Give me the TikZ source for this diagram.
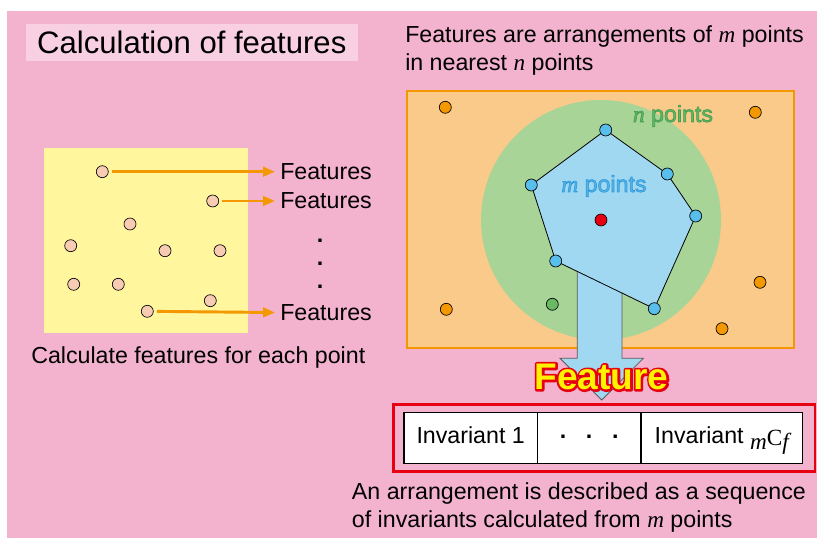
\documentclass[tikz,border=0pt]{standalone}
\usepackage{fontspec}
\setmainfont{Liberation Sans}
\newfontfamily\serif{Liberation Serif}
\usetikzlibrary{positioning, arrows.meta}

\definecolor{bgpink}{RGB}{243,178,206}
\definecolor{titlepink}{RGB}{248,208,226}
\definecolor{padyellow}{RGB}{255,246,158}
\definecolor{peach}{RGB}{248,204,178}
\definecolor{featorange}{RGB}{243,152,0}
\definecolor{boxorange}{RGB}{250,202,138}
\definecolor{neargreen}{RGB}{168,212,152}
\definecolor{polyblue}{RGB}{160,216,242}
\definecolor{dotblue}{RGB}{88,190,235}
\definecolor{dotgreen}{RGB}{106,186,100}
\definecolor{centerred}{RGB}{230,0,18}
\definecolor{textgreen}{RGB}{96,184,96}
\definecolor{textblue}{RGB}{84,182,232}

% text drawn with a stroked outline (render mode, stroke colour, width)
\newcommand\strokedtext[4]{\special{pdf:code q #1 Tr #3 w 1 j #2 RG}#4\special{pdf:code Q}}

\tikzstyle{Text} = [inner sep=0pt, font=\fontsize{17.4}{20.5}\selectfont, align=left]
\tikzstyle{Dot} = [circle, draw=black, line width=0.5pt, inner sep=0pt, minimum size=9pt]
\tikzstyle{Arrow} = [
featorange,
line width=2.2pt,
-{Triangle[length=9pt, width=7pt]},
shorten <= 2.5pt, shorten >= 3.7pt]
\tikzstyle{Cell} = [draw, fill=white, line width=1.1pt, outer sep=0pt,
minimum height=38pt, inner sep=0pt, text height=12.5pt, text depth=4pt,
font=\fontsize{17.4}{20}\selectfont]

\begin{document}
\begin{tikzpicture}[x=0.75pt, y=-0.75pt]
    \useasboundingbox (0,0) rectangle (817,538);
    \fill[bgpink] (7,11) rectangle (817,538);
    \node [fill=titlepink, minimum width=249pt, minimum height=27.3pt,
        font=\fontsize{23.3}{27}\selectfont] (title) at (191.8,42.5) {Calculation of features};

    % left: features of each point
    \fill[padyellow] (44,148) rectangle (248,333);
    \foreach \i/\x/\y in {1/102.3/171.7, 2/212.7/201, 3/130/224, 4/70.7/245.7,
        5/165/250.7, 6/220/250.7, 7/73.7/284.3, 8/118.3/284.3, 9/210.3/300.7, 10/147.3/311.3}
        \node [Dot, fill=peach] (p\i) at (\x,\y) {};
    \node [Text, anchor=west] (f1) at (280,171.7) {Features};
    \node [Text, anchor=west] (f2) at (280,201) {Features};
    \node [Text, anchor=west] (f3) at (280,313) {Features};
    \node [Text, align=center, font=\fontsize{17.4}{17.3}\selectfont\bfseries] (vdots) at (320,264) {.\\.\\.};
    \draw[Arrow] (p1) -- (f1);
    \draw[Arrow] (p2) -- (f2);
    \draw[Arrow] (p10) -- (f3);
    \node [Text, anchor=west] (calc) at (31,358) {Calculate features for each point};

    % right: arrangement in nearest points
    \node [Text, anchor=west] (head) at (405,50.5)
        {Features are arrangements of {\serif\itshape m} points\\in nearest {\serif\itshape n} points};
    \draw[featorange, line width=1.5pt, fill=boxorange] (406.7,90.7) rectangle (794.3,348.3);
    \fill[neargreen] (601,220) circle[radius=90pt];
    \draw[fill=polyblue, draw=black!65, line width=0.6pt] (577.3,220) -- (622,220) -- (622,358.3)
        -- (643.3,358.3) -- (601.7,400) -- (560,358.3) -- (577.3,358.3) -- cycle;
    \coordinate (q1) at (605.7,130);
    \coordinate (q2) at (667.3,174);
    \coordinate (q3) at (695.7,216);
    \coordinate (q4) at (654.3,308.7);
    \coordinate (q5) at (555.7,261);
    \coordinate (q6) at (531.3,185);
    \draw[fill=polyblue, line width=0.6pt] (q1) -- (q2) -- (q3) -- (q4) -- (q5) -- (q6) -- cycle;
    \foreach \i in {1,...,6}
        \node [Dot, fill=dotblue] (v\i) at (q\i) {};
    \node [Dot, fill=centerred] (c) at (601,220) {};
    \node [Dot, fill=dotgreen] (g) at (552.3,304.3) {};
    \foreach \i/\x/\y in {1/445.3/107.3, 2/755.3/112.3, 3/760/282.3, 4/446.3/309.3, 5/722/328.7}
        \node [Dot, fill=featorange] (o\i) at (\x,\y) {};
    \node [Text, textgreen] (nlab) at (673,116)
        {\strokedtext{2}{0.27 0.62 0.33}{0.5}{{\serif\itshape n} points}};
    \node [Text, textblue] (mlab) at (604,186)
        {\strokedtext{2}{0.2 0.6 0.85}{0.5}{{\serif\itshape m} points}};
    \node [inner sep=0pt, font=\fontsize{27.8}{30}\selectfont\bfseries] (featline) at (601.5,377)
        {\strokedtext{1}{0.9 0 0.07}{3.2}{Feature}};
    \node [inner sep=0pt, yellow, font=\fontsize{27.8}{30}\selectfont\bfseries] (feat) at (featline) {Feature};

    % sequence of invariants
    \draw[centerred, line width=2pt] (393.3,404.3) rectangle (815,471.7);
    \node [Cell, minimum width=100pt, anchor=west] (inv1) at (404,438) {Invariant 1};
    \node [Cell, minimum width=77.8pt, right=0pt of inv1] (dots)
        {\raisebox{4pt}{\textbf{.\hspace{0.85em}.\hspace{0.85em}.}}};
    \node [Cell, minimum width=121pt, right=0pt of dots] (invm)
        {Invariant \raisebox{-4.5pt}{\serif\itshape m}\raisebox{-1pt}{\serif C}\raisebox{-4.5pt}{\serif\itshape f}};
    \node [Text, anchor=west, font=\fontsize{17.4}{21}\selectfont] (desc) at (351.7,507)
        {An arrangement is described as a sequence\\of invariants calculated from {\serif\itshape m} points};
\end{tikzpicture}
\end{document}
